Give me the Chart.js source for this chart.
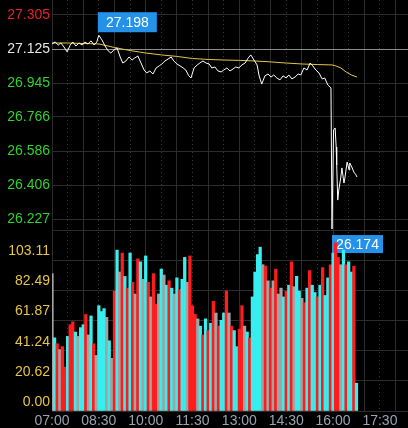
<!DOCTYPE html>
<html>
<head>
<meta charset="utf-8">
<script src="https://cdn.jsdelivr.net/npm/chart.js@4.4.1/dist/chart.umd.min.js"></script>
<style>
  html, body { margin: 0; padding: 0; background: #000; }
  #wrap { width: 408px; height: 428px; }
</style>
</head>
<body>
<div id="wrap"><canvas id="chart_intradia" width="408" height="428"></canvas></div>
<script>
// ejes
const xLabels = ['07:00', '08:30', '10:00', '11:30', '13:00', '14:30', '16:00', '17:30'];
const priceTicks = [26.227, 26.406, 26.586, 26.766, 26.945, 27.125, 27.305];
const volTicks = [0, 20.622, 41.244, 61.866, 82.488, 103.11, 123.732];
const precioBase = 27.125;

// precio minuto a minuto (muestreado)
const priceTimes = ['07:00','07:06','07:12','07:17','07:23','07:29','07:35','07:40','07:46','07:52','07:58','08:03','08:09','08:15','08:21','08:26','08:30','08:36','08:42','08:48','08:53','08:59','09:05','09:11','09:16','09:22','09:28','09:34','09:39','09:45','09:51','09:57','10:02','10:08','10:14','10:20','10:26','10:31','10:37','10:43','10:49','10:54','11:00','11:06','11:12','11:17','11:23','11:27','11:33','11:39','11:44','11:50','11:56','12:02','12:07','12:13','12:19','12:25','12:30','12:36','12:42','12:48','12:53','12:59','13:05','13:11','13:17','13:22','13:28','13:34','13:38','13:43','13:49','13:55','14:01','14:06','14:12','14:18','14:24','14:30','14:35','14:41','14:47','14:53','14:58','15:04','15:10','15:16','15:21','15:27','15:33','15:39','15:44','15:50','15:56','15:58','16:01','16:04','16:06','16:07','16:09','16:11','16:15','16:17','16:21','16:23','16:27','16:31','16:32','16:36','16:40','16:44','16:46'];
const priceValues = [27.152,27.162,27.146,27.157,27.136,27.110,27.146,27.162,27.141,27.157,27.146,27.162,27.152,27.168,27.146,27.162,27.198,27.173,27.141,27.115,27.104,27.120,27.131,27.083,27.051,27.062,27.083,27.067,27.078,27.088,27.051,27.014,26.999,27.009,26.993,27.025,27.036,27.046,27.062,27.072,27.083,27.062,27.046,27.036,27.025,27.014,26.983,26.972,27.025,27.041,27.051,27.062,27.051,27.046,27.025,27.030,27.009,27.004,27.014,27.025,27.009,27.020,27.030,27.025,27.041,27.051,27.078,27.094,27.067,27.041,26.983,26.940,26.983,26.993,26.977,26.988,26.972,26.962,26.983,26.972,26.988,26.967,26.977,26.993,26.988,27.025,27.014,27.051,27.036,27.014,26.999,26.967,26.972,26.935,26.919,26.174,26.697,26.708,26.607,26.512,26.327,26.380,26.449,26.497,26.417,26.449,26.528,26.486,26.523,26.502,26.475,26.460,26.449];

// precio medio
const avgTimes = ['07:00','07:30','08:00','08:30','09:00','09:30','10:00','10:30','11:00','11:30','12:00','12:30','13:00','13:30','14:00','14:30','15:00','15:30','15:58','16:05','16:15','16:25','16:35','16:46'];
const avgValues = [27.157,27.157,27.154,27.152,27.133,27.117,27.104,27.094,27.086,27.075,27.070,27.067,27.065,27.062,27.057,27.051,27.046,27.043,27.041,27.036,27.025,27.004,26.988,26.977];

// volumen cada 5 minutos desde 07:00
const volValues = [94,50,46,42,44,30,51,59,61,54, 51,57,59,66,52,65,46,38,72,68, 70,64,48,36,82,110,95,108,92,84, 108,88,80,104,102,90,106,88,78,94, 73,80,97,93,86,89,84,80,91,83, 90,105,88,106,72,66,63,58,52,63, 55,60,75,67,58,62,67,82,67,58, 55,44,56,72,58,54,50,78,95,107, 112,100,99,89,84,89,97,80,84,78, 82,86,102,85,92,82,77,74,84,96, 86,81,78,86,98,79,91,100,108,115, 105,100,110,100,102,95,99,19];
// r = baja, c = sube, g = sin cambio
const volDirs = ['g','c','r','g','r','r','c','r','r','c', 'g','c','c','r','g','c','r','g','c','c', 'c','g','c','g','r','c','g','r','c','r', 'c','r','g','r','c','g','c','r','g','r', 'r','g','c','g','c','r','c','g','c','r', 'c','c','g','r','r','r','g','c','r','c', 'r','c','r','g','r','c','c','r','g','r', 'c','c','r','r','g','c','r','c','c','c', 'c','g','r','g','r','g','r','g','g','c', 'r','c','r','g','c','c','g','r','c','r', 'c','c','r','c','r','c','c','r','c','r', 'r','g','c','r','c','c','r','c'];

const X_MAX = 684;
const GRID = '#2c2c2c';
const fuente = { family: '"Liberation Sans", Arial, sans-serif', size: 14 };
const coloresVol = { r: '#ff1c1c', c: '#38eeee', g: '#a3a3a3' };

function toMin(t) {
    const [h, m] = t.split(':').map(Number);
    return (h - 7) * 60 + m;
}

const gridMinutes = [];
for (let m = 0; m <= X_MAX; m += 30) gridMinutes.push(m);

function colorPrecio(v) {
    if (Math.abs(v - precioBase) < 1e-6) return '#e6e6e6';
    return v > precioBase ? '#e8202a' : '#2fd22f';
}

// sin margenes automaticos: el area del grafico ocupa todo el lienzo
function sinPadding(axis) {
    axis.paddingTop = 0;
    axis.paddingBottom = 0;
    axis.paddingLeft = 0;
    axis.paddingRight = 0;
}

function dibujarCaja(ctx, x, y, w, h, texto) {
    ctx.save();
    ctx.fillStyle = '#2592ea';
    ctx.fillRect(x, y, w, h);
    ctx.fillStyle = '#ffffff';
    ctx.font = '14px "Liberation Sans", Arial, sans-serif';
    ctx.textAlign = 'center';
    ctx.textBaseline = 'middle';
    ctx.fillText(texto, x + w / 2, y + h / 2 + 1);
    ctx.restore();
}

const etiquetasExtremos = {
    id: 'etiquetasExtremos',
    beforeDatasetsDraw(chart) {
        const { ctx, scales } = chart;
        const iMax = priceValues.indexOf(Math.max(...priceValues));
        const iMin = priceValues.indexOf(Math.min(...priceValues));
        const xMax = scales.x.getPixelForValue(toMin(priceTimes[iMax]));
        const yMax = scales.yPrecio.getPixelForValue(priceValues[iMax]);
        const xMin = scales.x.getPixelForValue(toMin(priceTimes[iMin]));
        const yMin = scales.yPrecio.getPixelForValue(priceValues[iMin]);
        dibujarCaja(ctx, xMax - 1, yMax - 23, 59, 20, priceValues[iMax].toFixed(3));
        dibujarCaja(ctx, xMin, yMin + 6, 51, 18, priceValues[iMin].toFixed(3));
    }
};

const ctx = document.getElementById('chart_intradia').getContext('2d');

new Chart(ctx, {
    type: 'line',
    data: {
        datasets: [{
            type: 'line',
            data: priceTimes.map((t, i) => ({ x: toMin(t), y: priceValues[i] })),
            borderColor: '#ffffff',
            borderWidth: 1,
            pointRadius: 0,
            yAxisID: 'yPrecio'
        }, {
            type: 'line',
            data: avgTimes.map((t, i) => ({ x: toMin(t), y: avgValues[i] })),
            borderColor: '#e3c64a',
            borderWidth: 1,
            pointRadius: 0,
            yAxisID: 'yPrecio'
        }, {
            type: 'bar',
            data: volValues.map((v, i) => ({ x: i * 5, y: v })),
            backgroundColor: volDirs.map(d => coloresVol[d]),
            borderWidth: 0,
            barThickness: 2.6,
            yAxisID: 'yVol'
        }]
    },
    options: {
        responsive: false,
        animation: false,
        devicePixelRatio: 1,
        layout: { padding: 0 },
        plugins: {
            legend: { display: false },
            tooltip: { enabled: false }
        },
        scales: {
            x: {
                type: 'linear',
                min: 0,
                max: X_MAX,
                offset: false,
                afterBuildTicks: axis => { axis.ticks = gridMinutes.map(v => ({ value: v })); },
                afterFit: axis => { axis.height = 17; sinPadding(axis); },
                ticks: {
                    autoSkip: false,
                    maxRotation: 0,
                    padding: 2,
                    color: '#9aa3b2',
                    font: fuente,
                    callback: v => xLabels.find(l => toMin(l) === v) || ''
                },
                grid: {
                    offset: false,
                    drawTicks: false,
                    color: c => (c.tick && c.tick.value % 60 === 0) ? GRID : 'transparent'
                },
                border: { display: false }
            },
            xPunteado: {
                type: 'linear',
                position: 'bottom',
                min: 0,
                max: X_MAX,
                offset: false,
                afterBuildTicks: axis => { axis.ticks = gridMinutes.map(v => ({ value: v })); },
                afterFit: axis => { axis.height = 0; sinPadding(axis); },
                ticks: { display: false },
                grid: {
                    offset: false,
                    drawTicks: false,
                    color: c => (c.tick && c.tick.value % 60 !== 0) ? '#3a3a3a' : 'transparent'
                },
                border: { display: false, dash: [1, 3] }
            },
            yVol: {
                position: 'left',
                stack: 'panel',
                stackWeight: 181,
                min: 0,
                max: volTicks[volTicks.length - 1],
                afterBuildTicks: axis => { axis.ticks = volTicks.map(v => ({ value: v })); },
                afterFit: axis => { axis.width = 52; sinPadding(axis); },
                ticks: {
                    autoSkip: false,
                    padding: 2,
                    labelOffset: -9,
                    color: '#e6c446',
                    font: fuente,
                    callback: (v, i) => i === volTicks.length - 1 ? '' : v.toFixed(2)
                },
                grid: { drawTicks: false, color: GRID },
                border: { display: false }
            },
            yPrecio: {
                position: 'left',
                stack: 'panel',
                stackWeight: 230,
                min: 26.169,
                max: 27.384,
                afterBuildTicks: axis => { axis.ticks = priceTicks.map(v => ({ value: v })); },
                afterFit: axis => { axis.width = 52; sinPadding(axis); },
                ticks: {
                    autoSkip: false,
                    padding: 2,
                    font: fuente,
                    color: c => colorPrecio(c.tick.value),
                    callback: v => v.toFixed(3)
                },
                grid: {
                    drawTicks: false,
                    color: c => (c.tick && Math.abs(c.tick.value - precioBase) < 1e-6) ? '#8c8c8c' : GRID
                },
                border: { display: false }
            }
        }
    },
    plugins: [etiquetasExtremos]
});
</script>
</body>
</html>
